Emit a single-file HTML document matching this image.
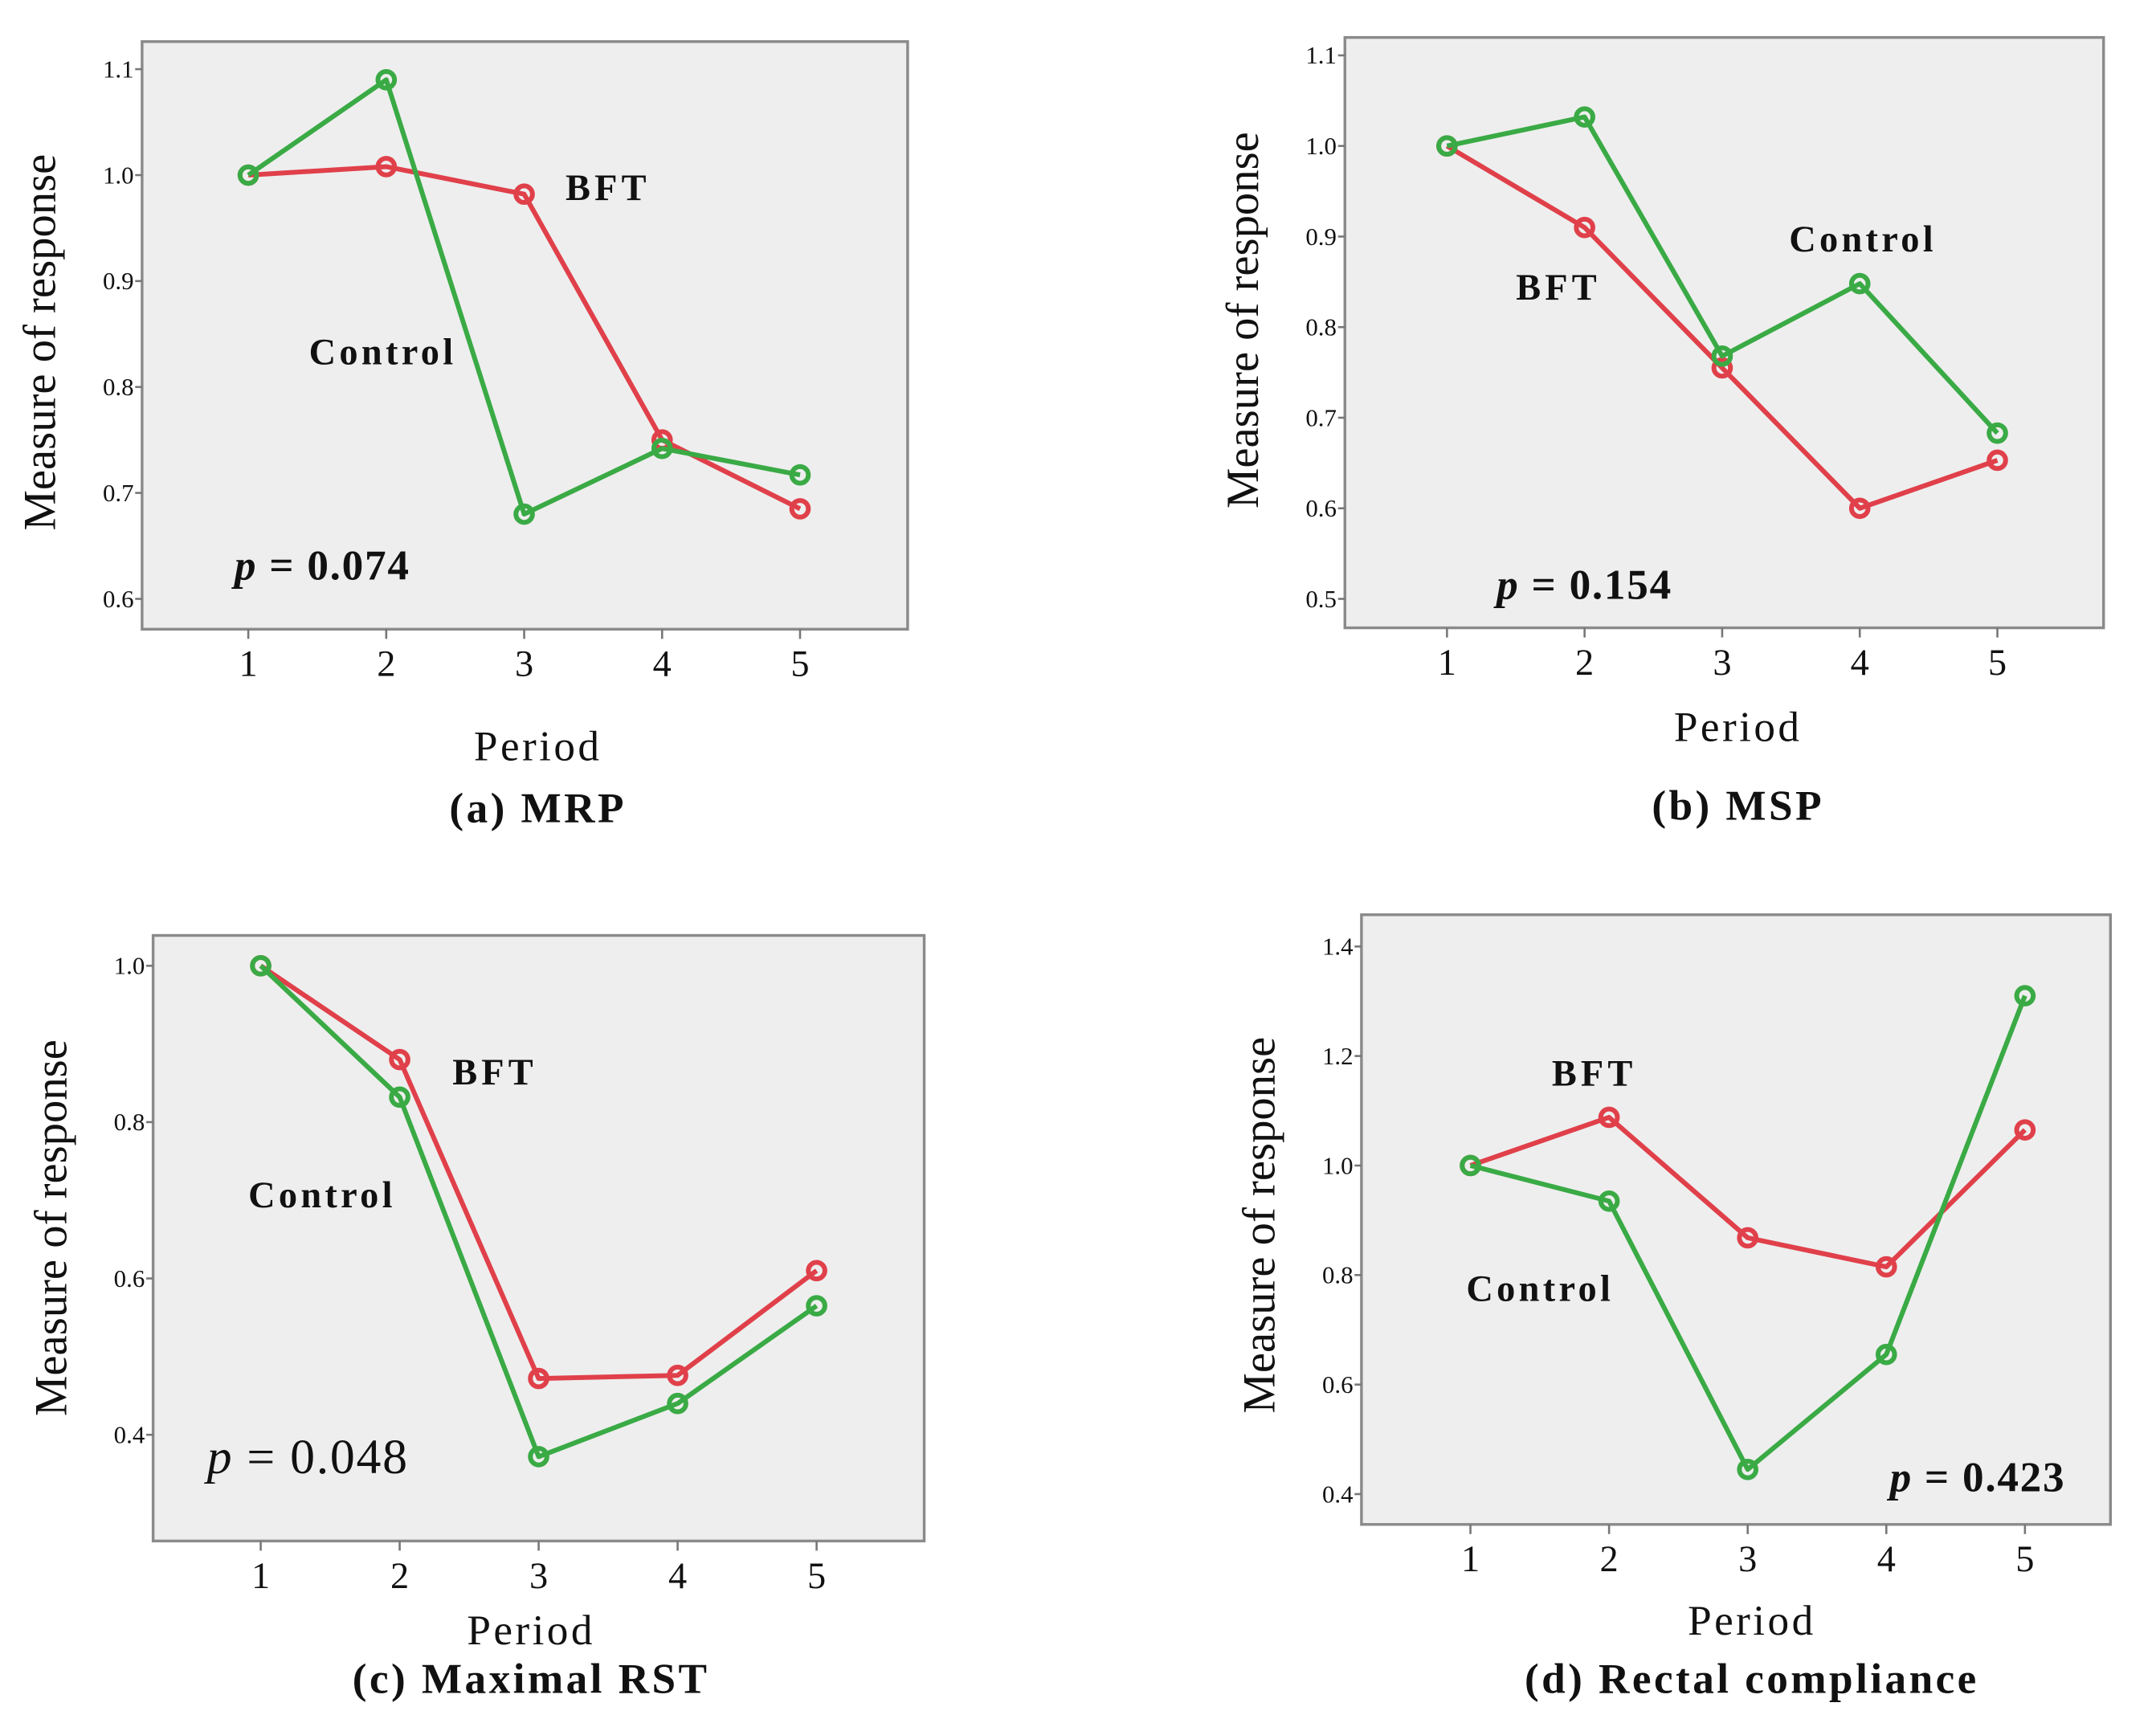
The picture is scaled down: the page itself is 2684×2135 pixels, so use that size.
<!DOCTYPE html>
<html><head><meta charset="utf-8"><style>
html,body{margin:0;padding:0;background:#fff;}
svg{display:block;}
text{font-family:"Liberation Serif",serif;fill:#111;}
</style></head><body>
<svg id="fig" width="2684" height="2135" viewBox="0 0 1563 1243" xmlns="http://www.w3.org/2000/svg"></svg>
<script>
const periods = [1, 2, 3, 4, 5];
const aControl = [1.0, 1.09, 0.68, 0.742, 0.717];
const aBFT = [1.0, 1.008, 0.982, 0.75, 0.685];
const aTicks = [0.6, 0.7, 0.8, 0.9, 1.0, 1.1];
const bControl = [1.0, 1.032, 0.768, 0.848, 0.683];
const bBFT = [1.0, 0.91, 0.755, 0.6, 0.653];
const bTicks = [0.5, 0.6, 0.7, 0.8, 0.9, 1.0, 1.1];
const cControl = [1.0, 0.832, 0.372, 0.44, 0.565];
const cBFT = [1.0, 0.88, 0.472, 0.476, 0.61];
const cTicks = [0.4, 0.6, 0.8, 1.0];
const dControl = [1.0, 0.935, 0.445, 0.655, 1.31];
const dBFT = [1.0, 1.088, 0.868, 0.815, 1.065];
const dTicks = [0.4, 0.6, 0.8, 1.0, 1.2, 1.4];

const NS = "http://www.w3.org/2000/svg";
const svg = document.getElementById('fig');
function el(tag, attrs, parent, txt){
  const e = document.createElementNS(NS, tag);
  for (const k in attrs) e.setAttribute(k, attrs[k]);
  if (txt !== undefined) e.textContent = txt;
  (parent || svg).appendChild(e);
  return e;
}
function panel(cfg){
  const g = el('g', {}, svg);
  
  
  const ys = v => cfg.y0px + (v - cfg.y0v) * (cfg.y1px - cfg.y0px) / (cfg.y1v - cfg.y0v);
  const xs = p => cfg.x1px + (p - 1) * (cfg.x5px - cfg.x1px) / 4;
  const bg = el('rect', {x: cfg.bx, y: cfg.by, width: cfg.bw, height: cfg.bh, fill: '#eeeeee', stroke: '#8a8a8a', 'stroke-width': 2}, g);
  
  
  cfg.ticks.forEach(t => {
    const y = ys(t);
    el('line', {x1: cfg.bx - 5, x2: cfg.bx, y1: y, y2: y, stroke: '#777', 'stroke-width': 1.5}, g);
    const tx = el('text', {x: cfg.bx - 6, y: y + 6, 'text-anchor': 'end', 'font-size': 18}, g, t.toFixed(1));
    
    
  });
  periods.forEach(p => {
    const x = xs(p);
    el('line', {x1: x, x2: x, y1: cfg.by + cfg.bh, y2: cfg.by + cfg.bh + 7, stroke: '#777', 'stroke-width': 1.5}, g);
    const tx = el('text', {x: x, y: cfg.by + cfg.bh + 34, 'text-anchor': 'middle', 'font-size': 27}, g, String(p));
    
    
  });
  [[cfg.bft, '#e0404a', 'bft-line'], [cfg.control, '#3aaa45', 'control-line']].forEach(([vals, col, nm]) => {
    const pts = vals.map((v, i) => xs(periods[i]) + ',' + ys(v)).join(' ');
    const pl = el('polyline', {points: pts, fill: 'none', stroke: col, 'stroke-width': 3.5, 'stroke-linejoin': 'round'}, g);
    
    
    vals.forEach((v, i) => {
      const c = el('circle', {cx: xs(periods[i]), cy: ys(v), r: 6, fill: 'none', stroke: col, 'stroke-width': 3.5}, g);
      
      
    });
  });
  const yt = el('text', {x: 0, y: 0, transform: `translate(${cfg.ytx},${cfg.yty}) rotate(-90)`, 'text-anchor': 'middle', 'font-size': 33}, g, 'Measure of response');
  
  
  const xt = el('text', {x: cfg.ptx, y: cfg.pty, 'text-anchor': 'middle', 'font-size': 31, 'letter-spacing': 2}, g, 'Period');
  
  
  const cap = el('text', {x: cfg.ptx, y: cfg.capy, 'text-anchor': 'middle', 'font-size': 31, 'font-weight': 'bold', 'letter-spacing': 2}, g, cfg.caption);
  
  
  const lb = el('text', {x: cfg.bftL[0], y: cfg.bftL[1], 'font-size': 27, 'font-weight': 'bold', 'letter-spacing': 3}, g, 'BFT');
  
  
  const lc = el('text', {x: cfg.conL[0], y: cfg.conL[1], 'font-size': 27, 'font-weight': 'bold', 'letter-spacing': 2.5}, g, 'Control');
  
  
  const pv = el('text', {x: cfg.pL[0], y: cfg.pL[1], 'font-size': cfg.pSize, 'font-weight': cfg.pBold ? 'bold' : 'normal', 'letter-spacing': 1}, g);
  
  
  el('tspan', {'font-style': 'italic'}, pv, 'p');
  el('tspan', {}, pv, ' = ' + cfg.p);
}
panel({name:'panel-a-mrp', bx:103, by:30, bw:555, bh:426, y0v:0.6, y0px:434, y1v:1.1, y1px:50, x1px:180, x5px:580,
  ticks:aTicks, control:aControl, bft:aBFT, ytx:40, yty:248, ptx:390, pty:551, capy:596, caption:'(a) MRP',
  bftL:[410,145], conL:[224,264], pL:[170,420], p:'0.074', pSize:31, pBold:true});
panel({name:'panel-b-msp', bx:975, by:27, bw:550, bh:428, y0v:0.5, y0px:434, y1v:1.1, y1px:40, x1px:1049, x5px:1448,
  ticks:bTicks, control:bControl, bft:bBFT, ytx:912, yty:232, ptx:1260, pty:537, capy:594, caption:'(b) MSP',
  bftL:[1099,217], conL:[1297,182], pL:[1085,434], p:'0.154', pSize:31, pBold:true});
panel({name:'panel-c-maximal-rst', bx:111, by:678, bw:559, bh:439, y0v:0.4, y0px:1040, y1v:1.0, y1px:700, x1px:189, x5px:592,
  ticks:cTicks, control:cControl, bft:cBFT, ytx:48, yty:890, ptx:385, pty:1192, capy:1227, caption:'(c) Maximal RST',
  bftL:[328,786], conL:[180,875], pL:[150,1068], p:'0.048', pSize:36, pBold:false});
panel({name:'panel-d-rectal-compliance', bx:987, by:663, bw:543, bh:442, y0v:0.4, y0px:1083, y1v:1.4, y1px:686, x1px:1066, x5px:1468,
  ticks:dTicks, control:dControl, bft:dBFT, ytx:924, yty:888, ptx:1270, pty:1185, capy:1227, caption:'(d) Rectal compliance',
  bftL:[1125,787], conL:[1063,943], pL:[1370,1081], p:'0.423', pSize:31, pBold:true});
</script>
</body></html>
